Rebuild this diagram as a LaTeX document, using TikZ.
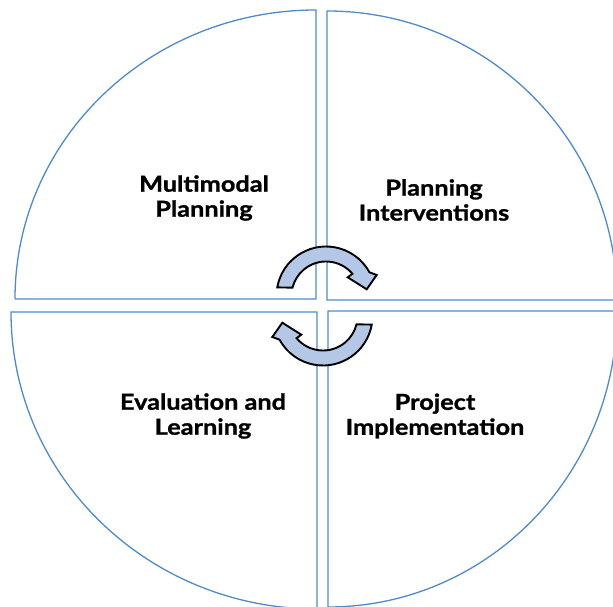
\documentclass[tikz,border=0pt]{standalone}
\usepackage{fontspec}
\setmainfont{Lato}
\newfontfamily\lblfont{Lato}[FakeStretch=1.15,FakeBold=1.2]
\definecolor{secblue}{HTML}{4F8AC9}
\definecolor{arrfill}{HTML}{B4C7E7}
\begin{document}
\begin{tikzpicture}[x=1pt,y=1pt,
  sector/.style={draw=secblue,line width=1.3pt,line join=miter},
  cyc/.style={draw=black,fill=arrfill,line width=1.9pt,line join=miter},
  lbl/.style={font=\lblfont\fontsize{22}{25}\selectfont\bfseries,align=center,text=black}]
\useasboundingbox (0,0) rectangle (613,607);
\clip (0,0) rectangle (613,607);
% sectors
\draw[sector] (15,308) -- (316,308) -- (316,597) arc[start angle=90,end angle=180,x radius=301,y radius=289];
\draw[sector] (327,307) -- (327,596) arc[start angle=90,end angle=0,x radius=290,y radius=289] -- cycle;
\draw[sector] (317,295) -- (11,295) arc[start angle=180,end angle=270,x radius=306,y radius=297] -- cycle;
\draw[sector] (328,296) -- (328,0) arc[start angle=270,end angle=360,x radius=289,y radius=296] -- cycle;
% cycle arrows
\begin{scope}[shift={(326,311)}]
\draw[cyc] (170:49.5) arc[start angle=170,end angle=28.6,radius=49.5] -- (50.7,21) -- (40.7,6.7) -- (21.7,18.7) -- (40:34.5) arc[start angle=40,end angle=166,radius=34.5] -- cycle;
\end{scope}
\begin{scope}[shift={(323,291)},rotate=180]
\draw[cyc] (170:49.5) arc[start angle=170,end angle=28.6,radius=49.5] -- (50.7,21) -- (40.7,6.7) -- (21.7,18.7) -- (40:34.5) arc[start angle=40,end angle=166,radius=34.5] -- cycle;
\end{scope}
% labels
\node[lbl] (mp) at (204,409) {Multimodal\\Planning};
\node[lbl] (pi) at (434,407) {Planning\\Interventions};
\node[lbl] (el) at (203,191) {Evaluation and\\Learning};
\node[lbl] (pj) at (435,191) {Project\\Implementation};
\end{tikzpicture}
\end{document}
